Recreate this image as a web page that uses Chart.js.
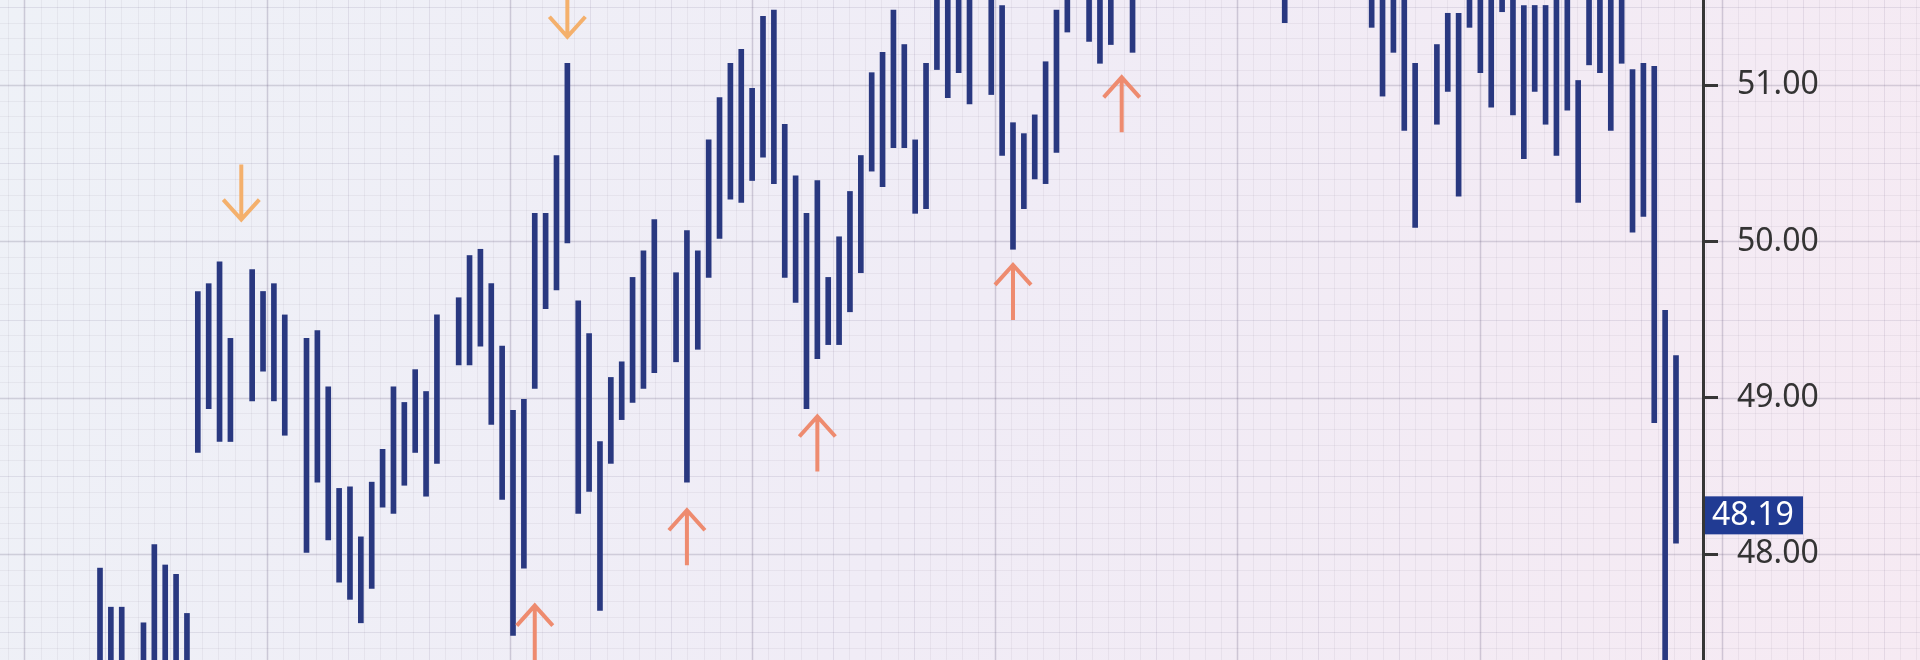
<!DOCTYPE html>
<html>
<head>
<meta charset="utf-8">
<script src="https://cdn.jsdelivr.net/npm/chart.js@4.4.0/dist/chart.umd.min.js"></script>
<style>
    html, body { margin: 0; padding: 0; background: #eff0f7; }
    canvas { display: block; }
</style>
</head>
<body>
<canvas id="price_chart" width="1920" height="660"></canvas>
<script>
let colors = {
    'bar': '#293880',
    'up': '#ee8b6f',
    'down': '#f4b06c',
    'axis': '#363636',
    'label_bg': '#213b93',
    'grid_rgb': '95, 85, 120',
}

// trading day slot of each bar (gaps = no bar)
const barSlot = [
    0, 1, 2, 4, 5, 6, 7, 8,
    9, 10, 11, 12, 14, 15, 16, 17, 19, 20, 21, 22, 23, 24, 25, 26, 27, 28, 29, 30, 31, 33, 34, 35,
    36, 37, 38, 39, 40, 41, 42, 43, 44, 45, 46, 47, 48, 49, 50, 51, 53, 54, 55, 56, 57, 58, 59, 60,
    61, 62, 63, 64, 65, 66, 67, 68, 69, 70, 71, 72, 73, 74, 75, 76, 77, 78, 79, 80, 82, 83, 84, 85,
    86, 87, 88, 89, 91, 92, 93, 95, 109,
    117, 118, 119, 120, 121, 123, 124, 125, 126, 127, 128, 129, 130, 131, 132, 133, 134, 135, 136,
    137, 138, 139, 140, 141, 142, 143, 144, 145
];
const barLow = [
    47.20, 47.20, 47.20, 47.20, 47.20, 47.20, 47.20, 47.20,
    48.65, 48.93, 48.72, 48.72, 48.98, 49.17, 48.98, 48.76, 48.01, 48.46, 48.09, 47.82, 47.71, 47.56, 47.78, 48.30, 48.26, 48.44, 48.65, 48.37, 48.58, 49.21, 49.21, 49.33,
    48.83, 48.35, 47.48, 47.91, 49.06, 49.57, 49.69, 49.99, 48.26, 48.40, 47.64, 48.58, 48.86, 48.97, 49.06, 49.16, 49.23, 48.46, 49.31, 49.77, 50.02, 50.27, 50.25, 50.39,
    50.54, 50.37, 49.77, 49.61, 48.93, 49.25, 49.34, 49.34, 49.55, 49.80, 50.45, 50.35, 50.60, 50.60, 50.18, 50.21, 51.10, 50.92, 51.08, 50.88, 50.94, 50.55, 49.95, 50.21,
    50.40, 50.37, 50.57, 51.34, 51.28, 51.14, 51.26, 51.21, 51.40,
    51.37, 50.93, 51.21, 50.71, 50.09, 50.75, 50.96, 50.29, 51.37, 51.08, 50.86, 51.47, 50.81, 50.53, 50.96, 50.75, 50.55, 50.84, 50.25,
    51.13, 51.08, 50.71, 51.14, 50.06, 50.16, 48.84, 47.20, 48.07
];
const barHigh = [
    47.91, 47.66, 47.66, 47.56, 48.06, 47.93, 47.87, 47.62,
    49.68, 49.73, 49.87, 49.38, 49.82, 49.68, 49.73, 49.53, 49.38, 49.43, 49.07, 48.42, 48.43, 48.11, 48.46, 48.67, 49.07, 48.97, 49.18, 49.04, 49.53, 49.64, 49.91, 49.95,
    49.73, 49.33, 48.92, 48.99, 50.18, 50.18, 50.55, 51.14, 49.62, 49.41, 48.72, 49.13, 49.23, 49.77, 49.94, 50.14, 49.80, 50.07, 49.94, 50.65, 50.92, 51.14, 51.23, 50.98,
    51.44, 51.48, 50.75, 50.42, 50.18, 50.39, 49.77, 50.03, 50.32, 50.55, 51.08, 51.21, 51.48, 51.26, 50.65, 51.14, 51.70, 51.70, 51.70, 51.70, 51.70, 51.51, 50.76, 50.69,
    50.81, 51.15, 51.48, 51.70, 51.70, 51.70, 51.70, 51.70, 51.70,
    51.70, 51.70, 51.70, 51.70, 51.14, 51.26, 51.46, 51.46, 51.70, 51.70, 51.70, 51.70, 51.70, 51.51, 51.51, 51.51, 51.70, 51.70, 51.03,
    51.70, 51.70, 51.70, 51.70, 51.10, 51.14, 51.12, 49.56, 49.27
];

// swing markers
const arrowSlot = [13, 43, 40, 54, 66, 84, 94];
const arrowTip = [50.14, 51.31, 47.67, 48.28, 48.88, 49.85, 51.05];
const arrowDir = ['down', 'down', 'up', 'up', 'up', 'up', 'up'];

const yTicks = [48, 49, 50, 51];
const lastPrice = 48.19;

const paperPlugin = {
    id: 'paper',
    beforeDraw(chart) {
        const { ctx, width, height } = chart;
        const y = chart.scales.y;
        const g = ctx.createLinearGradient(0, 0, width, height);
        g.addColorStop(0, '#eef1f7');
        g.addColorStop(0.5, '#f0ecf6');
        g.addColorStop(1, '#f6eaf3');
        ctx.save();
        ctx.fillStyle = g;
        ctx.fillRect(0, 0, width, height);

        // horizontal lines every 0.10
        for (let k = 470; k <= 516; k++) {
            const py = Math.round(y.getPixelForValue(k / 10)) + 0.5;
            let a = 0.07;
            if (k % 10 === 0) a = 0.22;
            else if (k % 5 === 0) a = 0.13;
            ctx.strokeStyle = `rgba(${colors.grid_rgb}, ${a})`;
            ctx.lineWidth = k % 10 === 0 ? 1.5 : 1;
            ctx.beginPath();
            ctx.moveTo(0, py);
            ctx.lineTo(width, py);
            ctx.stroke();
        }
        // vertical lines
        for (let k = -16; k <= 103; k++) {
            const px = Math.round(267 + k * 16.17) + 0.5;
            let a = 0.07;
            if (k % 15 === 0) a = 0.25;
            else if (k % 5 === 0) a = 0.12;
            ctx.strokeStyle = `rgba(${colors.grid_rgb}, ${a})`;
            ctx.lineWidth = k % 15 === 0 ? 1.5 : 1;
            ctx.beginPath();
            ctx.moveTo(px, 0);
            ctx.lineTo(px, height);
            ctx.stroke();
        }
        ctx.restore();
    }
};

const arrowPlugin = {
    id: 'arrows',
    afterDatasetsDraw(chart) {
        const { ctx } = chart;
        const x = chart.scales.x, y = chart.scales.y;
        ctx.save();
        ctx.lineWidth = 4;
        ctx.lineCap = 'butt';
        ctx.lineJoin = 'miter';
        arrowSlot.forEach((s, i) => {
            const up = arrowDir[i] === 'up';
            const px = x.getPixelForValue(s);
            const tip = y.getPixelForValue(arrowTip[i]);
            const d = up ? 1 : -1;
            ctx.strokeStyle = up ? colors.up : colors.down;
            ctx.beginPath();
            ctx.moveTo(px, tip + d * 2);
            ctx.lineTo(px, tip + d * 55);
            ctx.moveTo(px - 18, tip + d * 20);
            ctx.lineTo(px, tip);
            ctx.lineTo(px + 18, tip + d * 20);
            ctx.stroke();
        });
        ctx.restore();
    }
};

const lastPricePlugin = {
    id: 'lastPrice',
    afterDraw(chart) {
        const { ctx } = chart;
        const y = chart.scales.y;
        const py = y.getPixelForValue(lastPrice) - 9;
        ctx.save();
        ctx.fillStyle = colors.label_bg;
        ctx.fillRect(y.left + 2, py - 19, 98, 38);
        ctx.fillStyle = '#ffffff';
        ctx.font = '32px "Noto Sans"';
        ctx.textBaseline = 'middle';
        ctx.fillText(lastPrice.toFixed(2), y.left + 9, py + 1);
        ctx.restore();
    }
};

new Chart(document.getElementById('price_chart'), {
    type: 'bar',
    data: {
        datasets: [{
            label: 'High-Low',
            data: barSlot.map((s, i) => ({ x: s, y: [barLow[i], barHigh[i]] })),
            backgroundColor: colors.bar,
            barThickness: 5,
            borderWidth: 0,
            borderSkipped: false,
        }]
    },
    options: {
        responsive: false,
        animation: false,
        layout: { padding: 0 },
        plugins: {
            legend: { display: false },
            tooltip: { enabled: false }
        },
        scales: {
            x: {
                type: 'linear',
                display: false,
                offset: false,
                min: -9.2,
                max: 147.484,
                grid: { offset: false }
            },
            y: {
                position: 'right',
                min: 47.322,
                max: 51.545,
                afterBuildTicks: s => { s.ticks = yTicks.map(v => ({ value: v })); },
                afterFit: s => { s.width = 217; s.paddingTop = 0; s.paddingBottom = 0; },
                ticks: {
                    autoSkip: false,
                    padding: 19,
                    color: '#333333',
                    font: { family: 'Noto Sans', size: 32 },
                    callback: v => v.toFixed(2)
                },
                grid: {
                    drawOnChartArea: false,
                    drawTicks: true,
                    tickLength: 15,
                    tickWidth: 3,
                    tickColor: colors.axis
                },
                border: { display: true, color: colors.axis, width: 3 }
            }
        }
    },
    plugins: [paperPlugin, arrowPlugin, lastPricePlugin]
});
</script>
</body>
</html>
